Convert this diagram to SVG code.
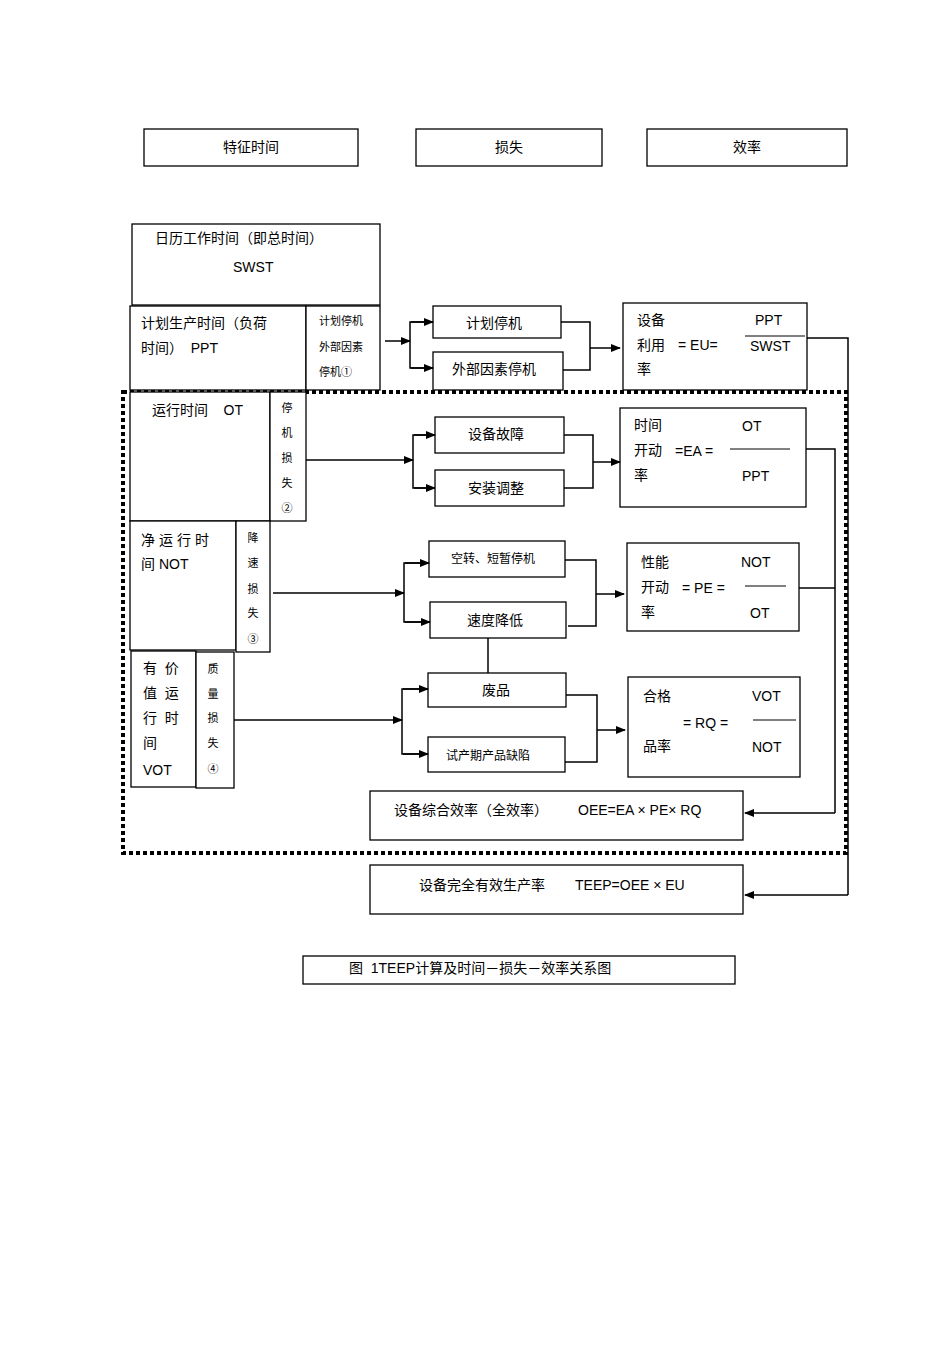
<svg xmlns="http://www.w3.org/2000/svg" width="950" height="1345" viewBox="0 0 950 1345">
<defs>
<marker id="a" markerWidth="10" markerHeight="8" refX="9" refY="4" orient="auto" markerUnits="userSpaceOnUse"><path d="M0,0 L10,4 L0,8 z" fill="#000"/></marker>
<style>
rect{fill:#fff;stroke:#000;stroke-width:1.3}
text{font-family:"Liberation Sans","Noto Sans CJK SC",sans-serif;font-size:14px;fill:#000;white-space:pre}
.s{font-size:11px}
.c line,.c path{stroke:#000;stroke-width:1.5;fill:none}
.ar{marker-end:url(#a)}
</style>
</defs>
<rect width="950" height="1345" style="fill:#fff;stroke:none"/>
<g id="h1"><rect x="144" y="129" width="214" height="37"/><text x="251" y="152" text-anchor="middle">特征时间</text></g>
<g id="h2"><rect x="416" y="129" width="186" height="37"/><text x="509" y="152" text-anchor="middle">损失</text></g>
<g id="h3"><rect x="647" y="129" width="200" height="37"/><text x="747" y="152" text-anchor="middle">效率</text></g>

<rect x="123" y="392" width="723" height="461" style="fill:none;stroke-width:4;stroke-dasharray:4,3"/>

<g id="swst"><rect x="132" y="224" width="248" height="81"/><text x="155" y="243">日历工作时间（即总时间）</text><text x="233" y="272">SWST</text></g>
<g id="ppt"><rect x="130" y="306" width="176" height="84"/><text x="141" y="328">计划生产时间（负荷</text><text x="141" y="353">时间）  PPT</text></g>
<g id="l1"><rect x="306" y="306" width="74" height="84"/><text class="s" x="319" y="325">计划停机</text><text class="s" x="319" y="351">外部因素</text><text class="s" x="319" y="376">停机①</text></g>
<g id="n1"><rect x="433" y="306" width="128" height="32"/><text x="494" y="328" text-anchor="middle">计划停机</text></g>
<g id="n2"><rect x="433" y="352" width="130" height="38"/><text x="494" y="374" text-anchor="middle">外部因素停机</text></g>
<g id="eu"><rect x="623" y="303" width="184" height="87"/><text x="637" y="325">设备</text><text x="637" y="350">利用</text><text x="678" y="350">= EU=</text><text x="637" y="374">率</text><text x="755" y="325">PPT</text><line x1="745" y1="336" x2="805" y2="336" stroke="#000"/><text x="750" y="351">SWST</text></g>

<g id="ot"><rect x="130" y="392" width="140" height="129"/><text x="152" y="415">运行时间    OT</text></g>
<g id="l2"><rect x="270" y="392" width="36" height="129"/><text class="s" x="287" y="412" text-anchor="middle">停</text><text class="s" x="287" y="437" text-anchor="middle">机</text><text class="s" x="287" y="462" text-anchor="middle">损</text><text class="s" x="287" y="487" text-anchor="middle">失</text><text class="s" x="287" y="512" text-anchor="middle">②</text></g>
<g id="n3"><rect x="435" y="417" width="129" height="36"/><text x="496" y="439" text-anchor="middle">设备故障</text></g>
<g id="n4"><rect x="435" y="470" width="129" height="36"/><text x="496" y="493" text-anchor="middle">安装调整</text></g>
<g id="ea"><rect x="620" y="408" width="186" height="99"/><text x="634" y="430">时间</text><text x="634" y="455">开动</text><text x="675" y="456">=EA =</text><text x="634" y="480">率</text><text x="742" y="431">OT</text><line x1="730" y1="449" x2="790" y2="449" stroke="#000"/><text x="742" y="481">PPT</text></g>

<g id="not"><rect x="130" y="521" width="106" height="129"/><text x="141" y="545" letter-spacing="4">净运行时</text><text x="141" y="569">间 NOT</text></g>
<g id="l3"><rect x="236" y="521" width="34" height="131"/><text class="s" x="253" y="542" text-anchor="middle">降</text><text class="s" x="253" y="567" text-anchor="middle">速</text><text class="s" x="253" y="593" text-anchor="middle">损</text><text class="s" x="253" y="617" text-anchor="middle">失</text><text class="s" x="253" y="643" text-anchor="middle">③</text></g>
<g id="n5"><rect x="429" y="541" width="136" height="36"/><text x="493" y="563" text-anchor="middle" style="font-size:12px">空转、短暂停机</text></g>
<g id="n6"><rect x="430" y="602" width="136" height="36"/><text x="495" y="625" text-anchor="middle">速度降低</text></g>
<g id="pe"><rect x="627" y="543" width="172" height="88"/><text x="641" y="567">性能</text><text x="641" y="592">开动</text><text x="682" y="593">= PE =</text><text x="641" y="617">率</text><text x="741" y="567">NOT</text><line x1="745" y1="586" x2="786" y2="586" stroke="#000"/><text x="750" y="618">OT</text></g>

<g id="vot"><rect x="131" y="651" width="65" height="136"/><text x="143" y="673">有  价</text><text x="143" y="698">值  运</text><text x="143" y="723">行  时</text><text x="143" y="748">间</text><text x="143" y="775">VOT</text></g>
<g id="l4"><rect x="196" y="652" width="38" height="136"/><text class="s" x="213" y="673" text-anchor="middle">质</text><text class="s" x="213" y="698" text-anchor="middle">量</text><text class="s" x="213" y="722" text-anchor="middle">损</text><text class="s" x="213" y="747" text-anchor="middle">失</text><text class="s" x="213" y="773" text-anchor="middle">④</text></g>
<g id="n7"><rect x="428" y="673" width="138" height="34"/><text x="496" y="695" text-anchor="middle">废品</text></g>
<g id="n8"><rect x="428" y="737" width="137" height="35"/><text x="488" y="760" text-anchor="middle" style="font-size:12px">试产期产品缺陷</text></g>
<g id="rq"><rect x="628" y="677" width="172" height="100"/><text x="643" y="701">合格</text><text x="683" y="728">= RQ =</text><text x="643" y="751">品率</text><text x="752" y="701">VOT</text><line x1="753" y1="720" x2="796" y2="720" stroke="#000"/><text x="752" y="752">NOT</text></g>

<g id="oee"><rect x="370" y="791" width="373" height="49"/><text x="394" y="815">设备综合效率（全效率）</text><text x="578" y="815">OEE=EA × PE× RQ</text></g>
<g id="teep"><rect x="370" y="865" width="373" height="49"/><text x="419" y="890">设备完全有效生产率</text><text x="575" y="890">TEEP=OEE × EU</text></g>
<g id="cap"><rect x="303" y="956" width="432" height="28"/><text x="349" y="973">图  1TEEP计算及时间－损失－效率关系图</text></g>

<g class="c" id="connectors">
<line class="ar" x1="385" y1="341" x2="410" y2="341"/>
<path d="M433,322 H410 V368 H433"/>
<line class="ar" x1="411" y1="322" x2="433" y2="322"/><line class="ar" x1="411" y1="368" x2="433" y2="368"/>
<path d="M561,322 H590 V370 H563"/>
<line class="ar" x1="590" y1="348" x2="620" y2="348"/>
<path d="M807,338 H848 V895"/>
<line class="ar" x1="848" y1="895" x2="745" y2="895"/>

<line class="ar" x1="306" y1="460" x2="413" y2="460"/>
<path d="M435,435 H413 V488 H435"/>
<line class="ar" x1="414" y1="435" x2="435" y2="435"/><line class="ar" x1="414" y1="488" x2="435" y2="488"/>
<path d="M564,435 H593 V488 H564"/>
<line class="ar" x1="593" y1="462" x2="620" y2="462"/>
<path d="M806,449 H835 V813"/>
<line class="ar" x1="835" y1="813" x2="745" y2="813"/>

<line class="ar" x1="273" y1="593" x2="404" y2="593"/>
<path d="M429,563 H404 V622 H430"/>
<line class="ar" x1="405" y1="563" x2="429" y2="563"/><line class="ar" x1="405" y1="622" x2="430" y2="622"/>
<path d="M565,560 H596 V626 H568"/>
<line class="ar" x1="596" y1="594" x2="624" y2="594"/>
<line x1="799" y1="588" x2="835" y2="588"/>
<line x1="488" y1="638" x2="488" y2="673"/>

<line class="ar" x1="234" y1="720" x2="402" y2="720"/>
<path d="M428,689 H402 V754 H428"/>
<line class="ar" x1="403" y1="689" x2="428" y2="689"/><line class="ar" x1="403" y1="754" x2="428" y2="754"/>
<path d="M566,695 H597 V762 H565"/>
<line class="ar" x1="597" y1="730" x2="625" y2="730"/>
</g>
</svg>
